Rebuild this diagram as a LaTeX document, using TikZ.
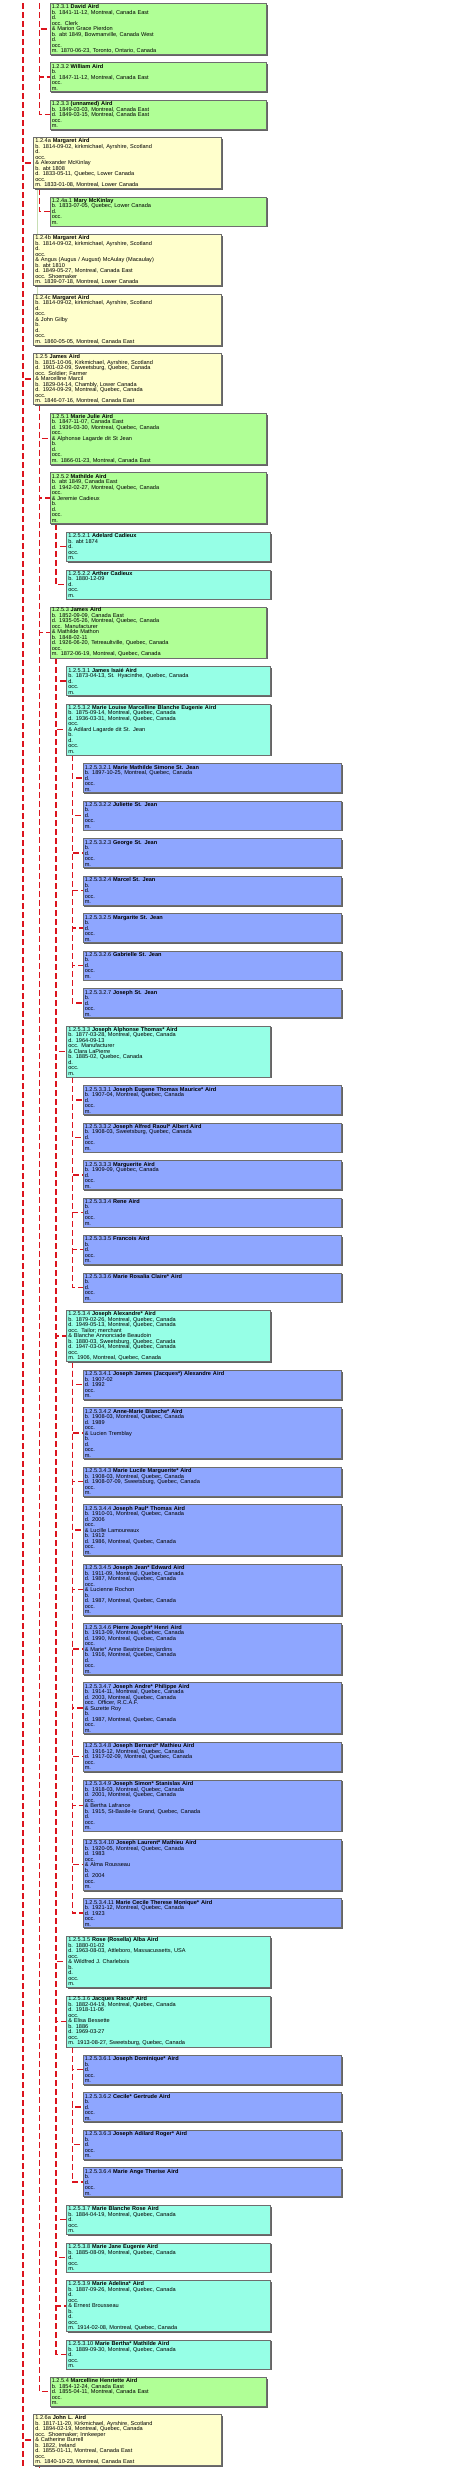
\documentclass[tikz,border=0pt]{standalone}
\usepackage{fontspec}
\setmainfont{Liberation Sans}
\usetikzlibrary{shadows,backgrounds}
\definecolor{yel}{RGB}{255,255,204}
\definecolor{grn}{RGB}{176,255,150}
\definecolor{cyn}{RGB}{150,255,230}
\definecolor{blu}{RGB}{142,166,255}
\definecolor{bordc}{RGB}{110,110,110}
\definecolor{shadc}{RGB}{100,100,100}
\definecolor{redc}{RGB}{220,20,30}
\definecolor{lightc}{RGB}{200,222,180}
\newcommand\pname[2]{#1 \textbf{#2}}
\newcommand\blankrest{b.\\d.\\occ.\\m.}
\newcommand\boxfont{\fontsize{5.6pt}{5.5pt}\selectfont\lineskiplimit=-5pt}
\tikzset{
 fam/.style={draw=bordc, line width=0.5pt, anchor=north west, inner xsep=1.8pt, inner ysep=0pt, align=left, font=\boxfont, general shadow={fill=shadc, shadow xshift=1.3pt, shadow yshift=-1.3pt}},
 lvA/.style={fam, fill=yel, text width=184.1pt},
 lvB/.style={fam, fill=grn, text width=212.7pt},
 lvC/.style={fam, fill=cyn, text width=200.1pt},
 lvD/.style={fam, fill=blu, text width=254.7pt},
 nrows/.style={minimum height={5.5pt*#1+1.5pt}},
 conn/.style={draw=redc, line width=1.3pt, dash pattern=on 6pt off 3pt},
 mline/.style={draw=lightc, line width=0.9pt},
}
\begin{document}
\begin{tikzpicture}[x=1pt,y=-1pt]
\useasboundingbox (0,0) rectangle (474,2468);
% level 1.2.3 children
\node[lvB,nrows=9] (n1231) at (49.7,3.3) {\pname{1.2.3.1}{David Aird}\\b. 1841-11-12, Montreal, Canada East\\d.\\occ. Clerk\\\& Marion Grace Pierdon\\b. abt 1849, Bowmanville, Canada West\\d.\\occ.\\m. 1870-06-23, Toronto, Ontario, Canada};
\node[lvB,nrows=5] (n1232) at (49.7,62.3) {\pname{1.2.3.2}{William Aird}\\b.\\d. 1847-11-12, Montreal, Canada East\\occ.\\m.};
\node[lvB,nrows=5] (n1233) at (49.7,100) {\pname{1.2.3.3}{(unnamed) Aird}\\b. 1849-03-03, Montreal, Canada East\\d. 1849-03-15, Montreal, Canada East\\occ.\\m.};
\node[lvA,nrows=9] (n124a) at (33.3,137.3) {\pname{1.2.4a}{Margaret Aird}\\b. 1814-09-02, kirkmichael, Ayrshire, Scotland\\d.\\occ.\\\& Alexander McKinlay\\b. abt 1808\\d. 1833-05-11, Quebec, Lower Canada\\occ.\\m. 1833-01-08, Montreal, Lower Canada};
\node[lvB,nrows=5] (n124a1) at (49.7,196.7) {\pname{1.2.4a.1}{Mary McKinlay}\\b. 1833-07-05, Quebec, Lower Canada\\d.\\occ.\\m.};
\node[lvA,nrows=9] (n124b) at (33.3,234.3) {\pname{1.2.4b}{Margaret Aird}\\b. 1814-09-02, kirkmichael, Ayrshire, Scotland\\d.\\occ.\\\& Angus (Augus / August) McAulay (Macaulay)\\b. abt 1810\\d. 1849-05-27, Montreal, Canada East\\occ. Shoemaker\\m. 1839-07-18, Montreal, Lower Canada};
\node[lvA,nrows=9] (n124c) at (33.3,294) {\pname{1.2.4c}{Margaret Aird}\\b. 1814-09-02, kirkmichael, Ayrshire, Scotland\\d.\\occ.\\\& John Gilby\\b.\\d.\\occ.\\m. 1860-05-05, Montreal, Canada East};
\node[lvA,nrows=9] (n125) at (33.3,353.3) {\pname{1.2.5}{James Aird}\\b. 1815-10-06, Kirkmichael, Ayrshire, Scotland\\d. 1901-02-09, Sweetsburg, Quebec, Canada\\occ. Soldier; Farmer\\\& Marcelline Marcil\\b. 1829-04-14, Chambly, Lower Canada\\d. 1924-09-29, Montreal, Quebec, Canada\\occ.\\m. 1846-07-16, Montreal, Canada East};
\node[lvB,nrows=9] (n1251) at (49.7,413) {\pname{1.2.5.1}{Marie Julie Aird}\\b. 1847-11-07, Canada East\\d. 1936-03-30, Montreal, Quebec, Canada\\occ.\\\& Alphonse Lagarde dit St Jean\\b.\\d.\\occ.\\m. 1866-01-23, Montreal, Canada East};
\node[lvB,nrows=9] (n1252) at (49.7,472.3) {\pname{1.2.5.2}{Mathilde Aird}\\b. abt 1849, Canada East\\d. 1942-02-27, Montreal, Quebec, Canada\\occ.\\\& Jeremie Cadieux\\b.\\d.\\occ.\\m.};
\node[lvC,nrows=5] (n12521) at (66.3,532) {\pname{1.2.5.2.1}{Adelard Cadieux}\\b. abt 1874\\d.\\occ.\\m.};
\node[lvC,nrows=5] (n12522) at (66.3,569.7) {\pname{1.2.5.2.2}{Arther Cadieux}\\b. 1880-12-09\\d.\\occ.\\m.};
\node[lvB,nrows=9] (n1253) at (49.7,606.7) {\pname{1.2.5.3}{James Aird}\\b. 1852-09-09, Canada East\\d. 1935-05-26, Montreal, Quebec, Canada\\occ. Manufacturer\\\& Mathilde Mathon\\b. 1848-02-11\\d. 1926-06-20, Tetreaultville, Quebec, Canada\\occ.\\m. 1872-06-19, Montreal, Quebec, Canada};
\node[lvC,nrows=5] (n12531) at (66.3,666.3) {\pname{1.2.5.3.1}{James Isaié Aird}\\b. 1873-04-13, St. Hyacinthe, Quebec, Canada\\d.\\occ.\\m.};
\node[lvC,nrows=9] (n12532) at (66.3,703.7) {\pname{1.2.5.3.2}{Marie Louise Marcelline Blanche Eugenie Aird}\\b. 1875-09-14, Montreal, Quebec, Canada\\d. 1936-03-31, Montreal, Quebec, Canada\\occ.\\\& Adilard Lagarde dit St. Jean\\b.\\d.\\occ.\\m.};
\node[lvD,nrows=5] (n125321) at (82.7,763.3) {\pname{1.2.5.3.2.1}{Marie Mathilde Simone St. Jean}\\b. 1897-10-25, Montreal, Quebec, Canada\\d.\\occ.\\m.};
\node[lvD,nrows=5] (n125322) at (82.7,800.7) {\pname{1.2.5.3.2.2}{Juliette St. Jean}\\\blankrest};
\node[lvD,nrows=5] (n125323) at (82.7,838.3) {\pname{1.2.5.3.2.3}{George St. Jean}\\\blankrest};
\node[lvD,nrows=5] (n125324) at (82.7,876) {\pname{1.2.5.3.2.4}{Marcel St. Jean}\\\blankrest};
\node[lvD,nrows=5] (n125325) at (82.7,913.3) {\pname{1.2.5.3.2.5}{Margarite St. Jean}\\\blankrest};
\node[lvD,nrows=5] (n125326) at (82.7,950.7) {\pname{1.2.5.3.2.6}{Gabrielle St. Jean}\\\blankrest};
\node[lvD,nrows=5] (n125327) at (82.7,988.3) {\pname{1.2.5.3.2.7}{Joseph St. Jean}\\\blankrest};
\node[lvC,nrows=9] (n12533) at (66.3,1025.7) {\pname{1.2.5.3.3}{Joseph Alphonse Thomas* Aird}\\b. 1877-03-28, Montreal, Quebec, Canada\\d. 1964-09-13\\occ. Manufacturer\\\& Clara LaPierre\\b. 1885-02, Quebec, Canada\\d.\\occ.\\m.};
\node[lvD,nrows=5] (n125331) at (82.7,1085.3) {\pname{1.2.5.3.3.1}{Joseph Eugene Thomas Maurice* Aird}\\b. 1907-04, Montreal, Quebec, Canada\\d.\\occ.\\m.};
\node[lvD,nrows=5] (n125332) at (82.7,1122.7) {\pname{1.2.5.3.3.2}{Joseph Alfred Raoul* Albert Aird}\\b. 1908-03, Sweetsburg, Quebec, Canada\\d.\\occ.\\m.};
\node[lvD,nrows=5] (n125333) at (82.7,1160.3) {\pname{1.2.5.3.3.3}{Marguerite Aird}\\b. 1909-09, Quebec, Canada\\d.\\occ.\\m.};
\node[lvD,nrows=5] (n125334) at (82.7,1197.7) {\pname{1.2.5.3.3.4}{Rene Aird}\\\blankrest};
\node[lvD,nrows=5] (n125335) at (82.7,1235) {\pname{1.2.5.3.3.5}{Francois Aird}\\\blankrest};
\node[lvD,nrows=5] (n125336) at (82.7,1272.7) {\pname{1.2.5.3.3.6}{Marie Rosalia Claire* Aird}\\\blankrest};
\node[lvC,nrows=9] (n12534) at (66.3,1310.3) {\pname{1.2.5.3.4}{Joseph Alexandre* Aird}\\b. 1879-02-26, Montreal, Quebec, Canada\\d. 1949-05-13, Montreal, Quebec, Canada\\occ. Tailor; merchant\\\& Blanche Annonciade Beaudoin\\b. 1880-03, Sweetsburg, Quebec, Canada\\d. 1947-03-04, Montreal, Quebec, Canada\\occ.\\m. 1906, Montreal, Quebec, Canada};
\node[lvD,nrows=5] (n125341) at (82.7,1370) {\pname{1.2.5.3.4.1}{Joseph James (Jacques*) Alexandre Aird}\\b. 1907-02\\d. 1992\\occ.\\m.};
\node[lvD,nrows=9] (n125342) at (82.7,1407.3) {\pname{1.2.5.3.4.2}{Anne-Marie Blanche* Aird}\\b. 1908-03, Montreal, Quebec, Canada\\d. 1989\\occ.\\\& Lucien Tremblay\\b.\\d.\\occ.\\m.};
\node[lvD,nrows=5] (n125343) at (82.7,1467) {\pname{1.2.5.3.4.3}{Marie Lucile Marguerite* Aird}\\b. 1908-03, Montreal, Quebec, Canada\\d. 1908-07-09, Sweetsburg, Quebec, Canada\\occ.\\m.};
\node[lvD,nrows=9] (n125344) at (82.7,1504.3) {\pname{1.2.5.3.4.4}{Joseph Paul* Thomas Aird}\\b. 1910-01, Montreal, Quebec, Canada\\d. 2006\\occ.\\\& Lucille Lamoureaux\\b. 1912\\d. 1986, Montreal, Quebec, Canada\\occ.\\m.};
\node[lvD,nrows=9] (n125345) at (82.7,1564) {\pname{1.2.5.3.4.5}{Joseph Jean* Edward Aird}\\b. 1911-09, Montreal, Quebec, Canada\\d. 1987, Montreal, Quebec, Canada\\occ.\\\& Lucienne Rochon\\b.\\d. 1987, Montreal, Quebec, Canada\\occ.\\m.};
\node[lvD,nrows=9] (n125346) at (82.7,1623.3) {\pname{1.2.5.3.4.6}{Pierre Joseph* Henri Aird}\\b. 1913-09, Montreal, Quebec, Canada\\d. 1990, Montreal, Quebec, Canada\\occ.\\\& Marie* Anne Beatrice Desjardins\\b. 1916, Montreal, Quebec, Canada\\d.\\occ.\\m.};
\node[lvD,nrows=9] (n125347) at (82.7,1682.3) {\pname{1.2.5.3.4.7}{Joseph Andre* Philippe Aird}\\b. 1914-11, Montreal, Quebec, Canada\\d. 2003, Montreal, Quebec, Canada\\occ. Officer, R.C.A.F.\\\& Suzette Roy\\b.\\d. 1987, Montreal, Quebec, Canada\\occ.\\m.};
\node[lvD,nrows=5] (n125348) at (82.7,1742) {\pname{1.2.5.3.4.8}{Joseph Bernard* Mathieu Aird}\\b. 1916-12, Montreal, Quebec, Canada\\d. 1917-02-09, Montreal, Quebec, Canada\\occ.\\m.};
\node[lvD,nrows=9] (n125349) at (82.7,1779.7) {\pname{1.2.5.3.4.9}{Joseph Simon* Stanislas Aird}\\b. 1918-03, Montreal, Quebec, Canada\\d. 2001, Montreal, Quebec, Canada\\occ.\\\& Bertha Lafrance\\b. 1915, St-Basile-le Grand, Quebec, Canada\\d.\\occ.\\m.};
\node[lvD,nrows=9] (n1253410) at (82.7,1839) {\pname{1.2.5.3.4.10}{Joseph Laurent* Mathieu Aird}\\b. 1920-05, Montreal, Quebec, Canada\\d. 1983\\occ.\\\& Alma Rousseau\\b.\\d. 2004\\occ.\\m.};
\node[lvD,nrows=5] (n1253411) at (82.7,1898.3) {\pname{1.2.5.3.4.11}{Marie Cecile Therese Monique* Aird}\\b. 1921-12, Montreal, Quebec, Canada\\d. 1923\\occ.\\m.};
\node[lvC,nrows=9] (n12535) at (66.3,1936) {\pname{1.2.5.3.5}{Rose (Rosella) Alba Aird}\\b. 1880-01-02\\d. 1963-08-03, Attleboro, Massacussetts, USA\\occ.\\\& Wildfred J. Charlebois\\b.\\d.\\occ.\\m.};
\node[lvC,nrows=9] (n12536) at (66.3,1995.7) {\pname{1.2.5.3.6}{Jacques Raoul* Aird}\\b. 1882-04-19, Montreal, Quebec, Canada\\d. 1918-11-06\\occ.\\\& Elisa Bessette\\b. 1886\\d. 1969-03-27\\occ.\\m. 1913-08-27, Sweetsburg, Quebec, Canada};
\node[lvD,nrows=5] (n125361) at (82.7,2055) {\pname{1.2.5.3.6.1}{Joseph Dominique* Aird}\\\blankrest};
\node[lvD,nrows=5] (n125362) at (82.7,2092.3) {\pname{1.2.5.3.6.2}{Cecile* Gertrude Aird}\\\blankrest};
\node[lvD,nrows=5] (n125363) at (82.7,2130) {\pname{1.2.5.3.6.3}{Joseph Adilard Roger* Aird}\\\blankrest};
\node[lvD,nrows=5] (n125364) at (82.7,2167.3) {\pname{1.2.5.3.6.4}{Marie Ange Therise Aird}\\\blankrest};
\node[lvC,nrows=5] (n12537) at (66.3,2205) {\pname{1.2.5.3.7}{Marie Blanche Rose Aird}\\b. 1884-04-19, Montreal, Quebec, Canada\\d.\\occ.\\m.};
\node[lvC,nrows=5] (n12538) at (66.3,2242.7) {\pname{1.2.5.3.8}{Marie Jane Eugenie Aird}\\b. 1885-08-09, Montreal, Quebec, Canada\\d.\\occ.\\m.};
\node[lvC,nrows=9] (n12539) at (66.3,2280.3) {\pname{1.2.5.3.9}{Marie Adelina* Aird}\\b. 1887-09-26, Montreal, Quebec, Canada\\d.\\occ.\\\& Ernest Brousseau\\b.\\d.\\occ.\\m. 1914-02-08, Montreal, Quebec, Canada};
\node[lvC,nrows=5] (n125310) at (66.3,2339.7) {\pname{1.2.5.3.10}{Marie Bertha* Mathilde Aird}\\b. 1889-09-30, Montreal, Quebec, Canada\\d.\\occ.\\m.};
\node[lvB,nrows=5] (n1254) at (49.7,2377) {\pname{1.2.5.4}{Marcelline Henriette Aird}\\b. 1854-12-24, Canada East\\d. 1855-04-11, Montreal, Canada East\\occ.\\m.};
\node[lvA,nrows=9] (n126a) at (33.3,2414.3) {\pname{1.2.6a}{John L. Aird}\\b. 1817-11-20, Kirkmichael, Ayrshire, Scotland\\d. 1894-02-19, Montreal, Quebec, Canada\\occ. Shoemaker; Innkeeper\\\& Catherine Burrell\\b. 1822, Ireland\\d. 1855-01-11, Montreal, Canada East\\occ.\\m. 1840-10-23, Montreal, Canada East};
% free ends
\coordinate (g12) at (23,-6);
\coordinate (g123) at (39.7,-6);
\coordinate (e12) at (23,2475);
\coordinate (e126) at (39.7,2475);
\begin{pgfonlayer}{background}
\draw[mline] ([xshift=4.4pt]n124a.south west) -- ([xshift=4.4pt]n124b.north west);
\draw[mline] ([xshift=4.4pt]n124b.south west) -- ([xshift=4.4pt]n124c.north west);
\draw[conn] (g12) -- (e12);
\foreach \c in {n124a,n125,n126a} \draw[conn] (g12) |- (\c.west);
\foreach \c in {n1231,n1232,n1233} \draw[conn] (g123) |- (\c.west);
\draw[conn] ([xshift=6.4pt]n124a.south west) |- (n124a1.west);
\foreach \c in {n1251,n1252,n1253,n1254} \draw[conn] ([xshift=6.4pt]n125.south west) |- (\c.west);
\foreach \c in {n12521,n12522} \draw[conn] ([xshift=6.3pt]n1252.south west) |- (\c.west);
\foreach \c in {n12531,n12532,n12533,n12534,n12535,n12536,n12537,n12538,n12539,n125310} \draw[conn] ([xshift=6.3pt]n1253.south west) |- (\c.west);
\foreach \c in {n125321,n125322,n125323,n125324,n125325,n125326,n125327} \draw[conn] ([xshift=6pt]n12532.south west) |- (\c.west);
\foreach \c in {n125331,n125332,n125333,n125334,n125335,n125336} \draw[conn] ([xshift=6pt]n12533.south west) |- (\c.west);
\foreach \c in {n125341,n125342,n125343,n125344,n125345,n125346,n125347,n125348,n125349,n1253410,n1253411} \draw[conn] ([xshift=6pt]n12534.south west) |- (\c.west);
\foreach \c in {n125361,n125362,n125363,n125364} \draw[conn] ([xshift=6pt]n12536.south west) |- (\c.west);
\draw[conn] ([xshift=6.4pt]n126a.south west) -- (e126);
\end{pgfonlayer}
\end{tikzpicture}
\end{document}
